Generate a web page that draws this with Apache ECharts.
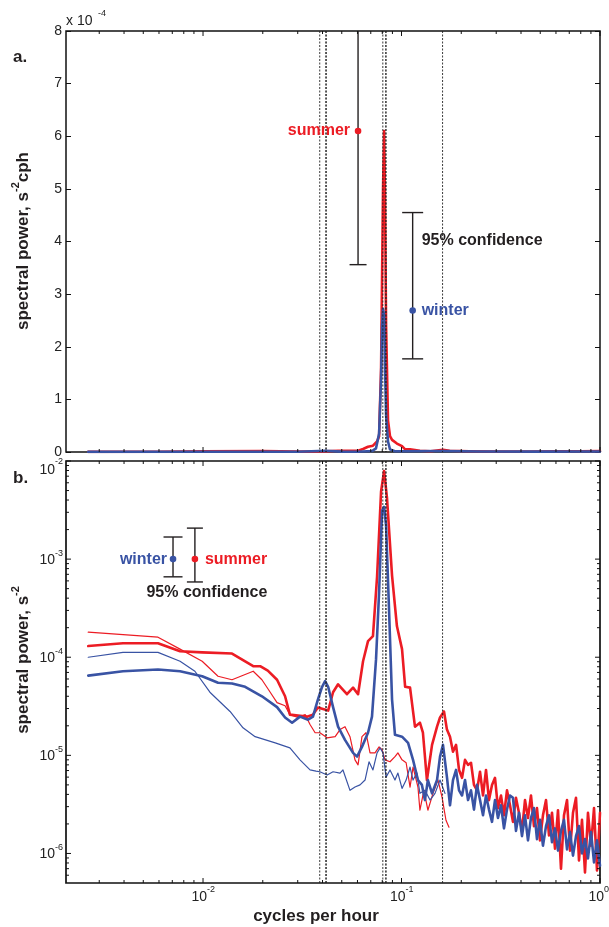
<!DOCTYPE html>
<html>
<head>
<meta charset="utf-8">
<script src="https://cdn.jsdelivr.net/npm/echarts@6/dist/echarts.min.js"></script>
<style>
  html, body { margin: 0; padding: 0; background: #fff; }
  #chart { width: 609px; height: 927px; }
</style>
</head>
<body>
<div id="chart"></div>
<script>
// ---------- panel a: variance-preserving spectra (s^-2 cph), linear power ----------
const freqLinSummer = [0.00264, 0.00593, 0.0100, 0.0200, 0.0300, 0.0420, 0.0479, 0.0604, 0.0640, 0.0678, 0.0718, 0.0753, 0.0771, 0.0789, 0.0807, 0.0817, 0.0826, 0.0836, 0.0855, 0.0875, 0.0896, 0.0948, 0.1006, 0.1043, 0.1104, 0.1238, 0.1400, 0.1618, 0.1750, 0.2200, 0.3000, 0.4500, 0.6000, 0.8000, 1.0000];
const powLinSummer  = [3e-7, 6e-7, 1.1e-6, 1.6e-6, 8e-7, 1.2e-6, 2.5e-6, 2.5e-6, 5.8e-6, 1.0e-5, 1.2e-5, 2.0e-5, 3.0e-5, 1.6e-4, 5.0e-4, 6.1e-4, 4.8e-4, 2.4e-4, 6e-5, 3.0e-5, 2.3e-5, 1.6e-5, 1.1e-5, 5e-6, 5e-6, 2.5e-6, 1.5e-6, 4e-6, 2.5e-6, 1.5e-6, 1.0e-6, 1.0e-6, 1.5e-6, 1.5e-6, 2.0e-6];
const freqLinWinter = [0.00264, 0.0100, 0.0300, 0.0412, 0.0500, 0.0600, 0.0710, 0.0744, 0.0771, 0.0789, 0.0798, 0.0807, 0.0817, 0.0826, 0.0836, 0.0855, 0.0875, 0.0927, 0.1006, 0.1618, 0.2500, 0.5000, 1.0000];
const powLinWinter  = [2e-7, 6e-7, 6e-7, 2.3e-6, 7e-7, 6e-7, 1.8e-6, 7e-6, 3.5e-5, 1.4e-4, 2.4e-4, 2.72e-4, 2.6e-4, 1.6e-4, 7e-5, 2e-5, 5e-6, 1.5e-6, 1.5e-6, 2e-6, 1e-6, 8e-7, 1e-6];

// ---------- panel b: spectra (s^-2), log power ----------
// thick = full record, thin = second estimate
const freqSummerThick = [0.00264, 0.00395, 0.00593, 0.00766, 0.0099, 0.0140, 0.0179, 0.0194, 0.0212, 0.0236, 0.0259, 0.0274, 0.0301, 0.0334, 0.0358, 0.0379, 0.0427, 0.0452, 0.0479, 0.0531, 0.0570, 0.0604, 0.0640, 0.0678, 0.0718, 0.0753, 0.0789, 0.0817, 0.0845, 0.0896, 0.0948, 0.1006, 0.1043, 0.1104, 0.1169, 0.1238, 0.1282, 0.1343, 0.1425, 0.1510, 0.1563, 0.1637, 0.1694];
const powSummerThick  = [1.30e-4, 1.39e-4, 1.39e-4, 1.15e-4, 1.12e-4, 1.09e-4, 8.1e-5, 8.1e-5, 7.3e-5, 5.9e-5, 4.0e-5, 2.6e-5, 2.54e-5, 2.48e-5, 2.6e-5, 3.07e-5, 2.86e-5, 4.4e-5, 5.3e-5, 4.2e-5, 4.9e-5, 4.2e-5, 9.1e-5, 1.46e-4, 1.64e-4, 6.6e-4, 4.9e-3, 7.9e-3, 4.2e-3, 6.8e-4, 2.08e-4, 1.21e-4, 5.0e-5, 4.9e-5, 1.96e-5, 2.15e-5, 1.7e-5, 5.6e-6, 1.28e-5, 1.96e-5, 2.43e-5, 2.8e-5, 1.83e-5];

const freqWinterThick = [0.00264, 0.00395, 0.00593, 0.00766, 0.0099, 0.0119, 0.0140, 0.0163, 0.0198, 0.0236, 0.0259, 0.0281, 0.0308, 0.0338, 0.0358, 0.0379, 0.0398, 0.0412, 0.0427, 0.0452, 0.0479, 0.0519, 0.0570, 0.0597, 0.0632, 0.0678, 0.0710, 0.0744, 0.0771, 0.0798, 0.0817, 0.0836, 0.0865, 0.0896, 0.0927, 0.1006, 0.1079, 0.1143, 0.1210, 0.1267, 0.1312, 0.1358, 0.1425, 0.1510, 0.1563, 0.1618, 0.1694];
const powWinterThick  = [6.5e-5, 7.2e-5, 7.5e-5, 7.2e-5, 6.4e-5, 5.5e-5, 5.4e-5, 5.0e-5, 4.0e-5, 3.1e-5, 2.43e-5, 2.15e-5, 2.48e-5, 2.31e-5, 2.48e-5, 3.7e-5, 5.0e-5, 5.7e-5, 5.0e-5, 3.1e-5, 1.96e-5, 1.44e-5, 1.06e-5, 9.7e-6, 1.22e-5, 1.7e-5, 2.48e-5, 9.5e-5, 4.6e-4, 3.1e-3, 3.4e-3, 2.2e-3, 3.1e-4, 3.7e-5, 1.62e-5, 1.55e-5, 1.34e-5, 9.0e-6, 5.6e-6, 5.0e-6, 3.5e-6, 5.6e-6, 4.1e-6, 5.6e-6, 9.7e-6, 1.28e-5, 6.0e-6];

// shared high-frequency band for the thick spectra
const freqHigh = [0.1755, 0.1817, 0.1883, 0.1949, 0.2018, 0.2089, 0.2163, 0.2239, 0.2318, 0.2401, 0.2486, 0.2574, 0.2665, 0.2759, 0.2857, 0.2958, 0.3062, 0.3171, 0.3283, 0.3399, 0.3520, 0.3644, 0.3773, 0.3906, 0.4046, 0.4189, 0.4337, 0.4490, 0.4649, 0.4814, 0.4984, 0.5160, 0.5346, 0.5535, 0.5731, 0.5933, 0.6143, 0.6360, 0.6585, 0.6822, 0.7063, 0.7311, 0.7570, 0.7837, 0.8114, 0.8402, 0.8699, 0.9010, 0.9329, 0.9658, 1.0];
const powSummerHigh = [1.55e-5, 1.09e-5, 1.28e-5, 7.1e-6, 5.9e-6, 9.0e-6, 8.0e-6, 8.4e-6, 5.0e-6, 4.4e-6, 6.8e-6, 3.9e-6, 7.1e-6, 3.5e-6, 5.0e-6, 5.9e-6, 2.9e-6, 3.9e-6, 2.45e-6, 4.4e-6, 3.1e-6, 2.1e-6, 3.7e-6, 2.6e-6, 1.7e-6, 3.5e-6, 2.3e-6, 3.9e-6, 1.9e-6, 2.9e-6, 1.36e-6, 2.45e-6, 3.5e-6, 1.53e-6, 2.6e-6, 1.12e-6, 2.76e-6, 7.0e-7, 2.45e-6, 3.5e-6, 1.07e-6, 2.6e-6, 3.7e-6, 8.5e-7, 2.2e-6, 6.4e-7, 2.6e-6, 1.2e-6, 2.9e-6, 6.7e-7, 2.6e-6];
const powWinterHigh = [3.1e-6, 5.6e-6, 7.1e-6, 4.4e-6, 3.9e-6, 5.6e-6, 3.5e-6, 4.4e-6, 2.8e-6, 5.0e-6, 3.5e-6, 2.45e-6, 3.9e-6, 2.8e-6, 2.1e-6, 3.5e-6, 2.3e-6, 3.1e-6, 1.8e-6, 2.8e-6, 3.9e-6, 3.7e-6, 1.7e-6, 2.6e-6, 1.5e-6, 2.45e-6, 1.36e-6, 2.3e-6, 2.9e-6, 1.4e-6, 2.2e-6, 1.2e-6, 1.9e-6, 2.45e-6, 1.3e-6, 1.8e-6, 1.07e-6, 1.7e-6, 2.2e-6, 1.1e-6, 1.65e-6, 9.5e-7, 1.5e-6, 1.9e-6, 1.0e-6, 1.4e-6, 8.9e-7, 1.65e-6, 8.1e-7, 1.36e-6, 7.5e-7];

const freqSummerThin = [0.00264, 0.00593, 0.00766, 0.0099, 0.0119, 0.0140, 0.0179, 0.0198, 0.0218, 0.0236, 0.0259, 0.0274, 0.0301, 0.0327, 0.0346, 0.0367, 0.0388, 0.0422, 0.0463, 0.0490, 0.0519, 0.0550, 0.0583, 0.0604, 0.0632, 0.0662, 0.0694, 0.0735, 0.0771, 0.0798, 0.0826, 0.0875, 0.0927, 0.0959, 0.1006, 0.1055, 0.1104, 0.1143, 0.1210, 0.1238, 0.1297, 0.1358, 0.1441, 0.1527, 0.1600, 0.1675, 0.1734];
const powSummerThin  = [1.8e-4, 1.6e-4, 1.21e-4, 9.1e-5, 6.4e-5, 5.9e-5, 7.2e-5, 5.9e-5, 4.4e-5, 3.45e-5, 3.2e-5, 2.6e-5, 2.43e-5, 2.6e-5, 2.06e-5, 1.7e-5, 1.7e-5, 1.51e-5, 1.55e-5, 1.83e-5, 1.96e-5, 1.55e-5, 9.0e-6, 8.0e-6, 1.55e-5, 1.7e-5, 1.06e-5, 1.06e-5, 1.22e-5, 1.14e-5, 9.0e-6, 8.6e-6, 9.7e-6, 1.06e-5, 9.0e-6, 8.4e-6, 4.75e-6, 7.6e-6, 4.75e-6, 2.76e-6, 4.4e-6, 2.76e-6, 4.1e-6, 5.6e-6, 3.75e-6, 2.18e-6, 1.85e-6];

const freqWinterThin = [0.00264, 0.00395, 0.00593, 0.00766, 0.0091, 0.01083, 0.01368, 0.0159, 0.0183, 0.0231, 0.0274, 0.0308, 0.0346, 0.0371, 0.0388, 0.0422, 0.0452, 0.0490, 0.0507, 0.0550, 0.0583, 0.0618, 0.0655, 0.0686, 0.0718, 0.0753, 0.0780, 0.0807, 0.0836, 0.0875, 0.0927, 0.0959, 0.1006, 0.1055, 0.1104, 0.1143, 0.1196, 0.1238, 0.1312, 0.1392, 0.1475, 0.1563, 0.1656];
const powWinterThin  = [1.0e-4, 1.12e-4, 1.12e-4, 9.1e-5, 7.2e-5, 4.4e-5, 2.8e-5, 1.91e-5, 1.55e-5, 1.34e-5, 1.19e-5, 9.0e-6, 7.1e-6, 6.9e-6, 6.8e-6, 6.3e-6, 6.8e-6, 6.6e-6, 7.1e-6, 4.4e-6, 4.75e-6, 5.0e-6, 5.6e-6, 8.6e-6, 7.1e-6, 1.06e-5, 1.19e-5, 1.06e-5, 6.0e-6, 7.1e-6, 5.6e-6, 6.6e-6, 4.6e-6, 5.6e-6, 7.6e-6, 5.6e-6, 6.6e-6, 4.1e-6, 4.4e-6, 3.5e-6, 4.1e-6, 5.6e-6, 4.1e-6];

// tidal constituents (cph): O1, P1, K1, M2, S2, K2, M4
const tidalFreqs = [0.03873, 0.04155, 0.04178, 0.08051, 0.08333, 0.08356, 0.16102];

// 95% confidence bars: frequency where drawn, centre, lower, upper
const confA = {
  summer: { f: 0.0604, c: 6.1e-4, lo: 3.56e-4, hi: 1.05e-3 },
  winter: { f: 0.1138, c: 2.69e-4, lo: 1.77e-4, hi: 4.55e-4 }
};
const confB = {
  winter: { f: 0.00706, c: 1.0e-3, lo: 6.6e-4, hi: 1.68e-3 },
  summer: { f: 0.0091, c: 1.0e-3, lo: 5.85e-4, hi: 2.07e-3 }
};

// axis ranges and ticks
const X_MIN = 2.04e-3, X_MAX = 1;
const Y_MIN_B = 5e-7, Y_MAX_B = 1e-2;
const xMajorTicks = [0.01, 0.1, 1];
const xMinorTicks = [0.003, 0.004, 0.005, 0.006, 0.007, 0.008, 0.009, 0.02, 0.03, 0.04, 0.05, 0.06, 0.07, 0.08, 0.09, 0.2, 0.3, 0.4, 0.5, 0.6, 0.7, 0.8, 0.9];
const yMajorTicksB = [1e-6, 1e-5, 1e-4, 1e-3, 1e-2];
const yMinorTicksB = [6e-7, 7e-7, 8e-7, 9e-7, 2e-6, 3e-6, 4e-6, 5e-6, 6e-6, 7e-6, 8e-6, 9e-6, 2e-5, 3e-5, 4e-5, 5e-5, 6e-5, 7e-5, 8e-5, 9e-5, 2e-4, 3e-4, 4e-4, 5e-4, 6e-4, 7e-4, 8e-4, 9e-4, 2e-3, 3e-3, 4e-3, 5e-3, 6e-3, 7e-3, 8e-3, 9e-3];

const FONT = '"Liberation Sans", Arial, Helvetica, sans-serif';
const RED = '#ec1c24', BLUE = '#3953a4', INK = '#231f20';

const pairs = (xs, ys) => xs.map((x, i) => [x, ys[i]]);

function line(name, xi, yi, data, color, width, z) {
  return {
    name, type: 'line', xAxisIndex: xi, yAxisIndex: yi, data,
    showSymbol: false, symbol: 'none', silent: true, animation: false, z,
    lineStyle: { color, width, join: 'round', cap: 'round' }
  };
}

// dotted verticals at the tidal frequencies, full panel height
function tidalSeries(xi, yi, yAny) {
  return {
    type: 'custom', xAxisIndex: xi, yAxisIndex: yi, silent: true, animation: false, z: 8,
    clip: false, data: tidalFreqs.map(f => [f, yAny]),
    renderItem(params, api) {
      const cs = params.coordSys;
      const x = api.coord([api.value(0), api.value(1)])[0];
      return {
        type: 'line', shape: { x1: x, y1: cs.y, x2: x, y2: cs.y + cs.height },
        style: { stroke: '#222', lineWidth: 0.9, lineDash: [2, 1.5] }
      };
    }
  };
}

// tick marks drawn on all four sides; labels on log panel
function tickSeries(xi, yi, items, withLabels) {
  return {
    type: 'custom', xAxisIndex: xi, yAxisIndex: yi, silent: true, animation: false, z: 20,
    clip: false, data: items,
    renderItem(params, api) {
      const cs = params.coordSys;
      const v0 = api.value(0), v1 = api.value(1);
      const axis = api.value(2), major = api.value(3) === 1;
      const p = api.coord([v0, v1]);
      const len = major ? 5 : 3;
      const st = { stroke: '#111', lineWidth: 1 };
      const kids = [];
      if (axis === 0) {
        const x = p[0], b = cs.y + cs.height;
        kids.push({ type: 'line', shape: { x1: x, y1: b, x2: x, y2: b - len }, style: st });
        kids.push({ type: 'line', shape: { x1: x, y1: cs.y, x2: x, y2: cs.y + len }, style: st });
        if (withLabels && major) {
          const e = String(Math.round(Math.log10(v0)));
          kids.push({ type: 'text', x: x + 4, y: b + 14, style: { text: '10', fill: '#222', font: '14px ' + FONT, align: 'right', verticalAlign: 'middle' } });
          kids.push({ type: 'text', x: x + 4, y: b + 7, style: { text: e, fill: '#222', font: '9px ' + FONT, align: 'left', verticalAlign: 'middle' } });
        }
      } else {
        const y = p[1], r = cs.x + cs.width;
        kids.push({ type: 'line', shape: { x1: cs.x, y1: y, x2: cs.x + len, y2: y }, style: st });
        kids.push({ type: 'line', shape: { x1: r, y1: y, x2: r - len, y2: y }, style: st });
        if (withLabels && major) {
          const e = String(Math.round(Math.log10(v1)));
          const top = Math.abs(y - cs.y) < 2;
          kids.push({ type: 'text', x: cs.x - 11, y: y + (top ? 9 : 1), style: { text: '10', fill: '#222', font: '14px ' + FONT, align: 'right', verticalAlign: 'middle' } });
          kids.push({ type: 'text', x: cs.x - 11, y: y + (top ? 1 : -6), style: { text: e, fill: '#222', font: '9px ' + FONT, align: 'left', verticalAlign: 'middle' } });
        }
      }
      return { type: 'group', children: kids };
    }
  };
}

// error bar with coloured centre dot and text labels
function confSeries(xi, yi, bar, color, cap, labels) {
  return {
    type: 'custom', xAxisIndex: xi, yAxisIndex: yi, silent: true, animation: false, z: 15,
    clip: false, data: [[bar.f, bar.c, bar.lo, bar.hi]],
    renderItem(params, api) {
      const cs = params.coordSys;
      const f = api.value(0);
      const pc = api.coord([f, api.value(1)]);
      const pl = api.coord([f, api.value(2)]);
      const ph = api.coord([f, api.value(3)]);
      const x = pc[0];
      const clipped = ph[1] < cs.y;
      const yt = clipped ? cs.y : ph[1];
      const st = { stroke: INK, lineWidth: 1.4 };
      const kids = [
        { type: 'line', shape: { x1: x, y1: yt, x2: x, y2: pl[1] }, style: st },
        { type: 'line', shape: { x1: x - cap, y1: pl[1], x2: x + cap, y2: pl[1] }, style: st }
      ];
      if (!clipped) kids.push({ type: 'line', shape: { x1: x - cap, y1: ph[1], x2: x + cap, y2: ph[1] }, style: st });
      kids.push({ type: 'circle', shape: { cx: x, cy: pc[1], r: 3.3 }, style: { fill: color } });
      labels.forEach(l => {
        const ref = l.anchor === 'hi' ? ph : l.anchor === 'lo' ? pl : pc;
        kids.push({
          type: 'text', x: x + l.dx, y: ref[1] + l.dy,
          style: { text: l.text, fill: l.color, font: 'bold 16px ' + FONT, align: l.align, verticalAlign: 'middle' }
        });
      });
      return { type: 'group', children: kids };
    }
  };
}

const ticksA = []
  .concat(xMajorTicks.map(v => [v, 4e-4, 0, 1]))
  .concat(xMinorTicks.map(v => [v, 4e-4, 0, 0]));
const ticksB = []
  .concat(xMajorTicks.map(v => [v, 1e-4, 0, 1]))
  .concat(xMinorTicks.map(v => [v, 1e-4, 0, 0]))
  .concat(yMajorTicksB.map(v => [0.01, v, 1, 1]))
  .concat(yMinorTicksB.map(v => [0.01, v, 1, 0]));

const hiddenLog = (gi, min, max) => ({
  type: 'log', logBase: 10, gridIndex: gi, min, max,
  axisLine: { show: false }, axisTick: { show: false }, axisLabel: { show: false },
  splitLine: { show: false }, minorTick: { show: false }
});

const linAxis = (pos, labels) => ({
  type: 'value', gridIndex: 0, position: pos, min: 0, max: 8e-4, interval: 1e-4,
  axisLine: { show: false }, splitLine: { show: false },
  axisTick: { show: true, inside: true, length: 5, lineStyle: { color: '#111', width: 1 } },
  axisLabel: {
    show: labels, margin: 4, color: '#222', fontSize: 14, fontFamily: FONT,
    formatter: v => String(Math.round(v * 1e4))
  }
});

const richTitle = {
  n: { fontSize: 17, fontWeight: 'bold', fontFamily: FONT, fill: INK, color: INK, lineHeight: 22, verticalAlign: 'bottom' },
  s: { fontSize: 11, fontWeight: 'bold', fontFamily: FONT, fill: INK, color: INK, lineHeight: 22, verticalAlign: 'top' }
};

const option = {
  backgroundColor: '#fff',
  animation: false,
  grid: [
    { left: 66, top: 31, width: 534, height: 421, show: true, borderColor: '#111', borderWidth: 1.5, backgroundColor: 'transparent' },
    { left: 66, top: 461, width: 534, height: 422, show: true, borderColor: '#111', borderWidth: 1.7, backgroundColor: 'transparent' }
  ],
  xAxis: [hiddenLog(0, X_MIN, X_MAX), hiddenLog(1, X_MIN, X_MAX)],
  yAxis: [linAxis('left', true), linAxis('right', false), hiddenLog(1, Y_MIN_B, Y_MAX_B)],
  series: [
    line('summer (a)', 0, 0, pairs(freqLinSummer, powLinSummer), RED, 2.6, 3),
    line('winter (a)', 0, 0, pairs(freqLinWinter, powLinWinter), BLUE, 2.6, 4),
    tidalSeries(0, 0, 4e-4),
    tickSeries(0, 0, ticksA, false),
    confSeries(0, 0, confA.summer, RED, 8.5, [
      { text: 'summer', color: RED, align: 'right', dx: -8, dy: 0 }
    ]),
    confSeries(0, 0, confA.winter, BLUE, 10.5, [
      { text: 'winter', color: BLUE, align: 'left', dx: 9, dy: 0 },
      { text: '95% confidence', color: INK, align: 'left', dx: 9, dy: 28, anchor: 'hi' }
    ]),

    line('summer thin (b)', 1, 2, pairs(freqSummerThin, powSummerThin), RED, 1.2, 3),
    line('winter thin (b)', 1, 2, pairs(freqWinterThin, powWinterThin), BLUE, 1.2, 4),
    line('summer (b)', 1, 2, pairs(freqSummerThick.concat(freqHigh), powSummerThick.concat(powSummerHigh)), RED, 2.6, 5),
    line('winter (b)', 1, 2, pairs(freqWinterThick.concat(freqHigh), powWinterThick.concat(powWinterHigh)), BLUE, 2.6, 6),
    tidalSeries(1, 2, 1e-4),
    tickSeries(1, 2, ticksB, true),
    confSeries(1, 2, confB.winter, BLUE, 9.5, [
      { text: 'winter', color: BLUE, align: 'right', dx: -6, dy: 0 }
    ]),
    confSeries(1, 2, confB.summer, RED, 8, [
      { text: 'summer', color: RED, align: 'left', dx: 10, dy: 0 },
      { text: '95% confidence', color: INK, align: 'center', dx: 12, dy: 11, anchor: 'lo' }
    ])
  ],
  graphic: [
    { type: 'text', x: 13, y: 57, style: { text: 'a.', font: 'bold 17px ' + FONT, fill: INK, verticalAlign: 'middle' } },
    { type: 'text', x: 13, y: 478, style: { text: 'b.', font: 'bold 17px ' + FONT, fill: INK, verticalAlign: 'middle' } },
    { type: 'text', x: 66, y: 21, style: { text: 'x 10', font: '14px ' + FONT, fill: '#222', verticalAlign: 'middle' } },
    { type: 'text', x: 98, y: 14, style: { text: '-4', font: '9px ' + FONT, fill: '#222', verticalAlign: 'middle' } },
    { type: 'text', x: 21, y: 241, rotation: Math.PI / 2,
      style: { text: '{n|spectral power, s}{s|-2}{n|cph}', rich: richTitle, align: 'center', verticalAlign: 'middle' } },
    { type: 'text', x: 21, y: 660, rotation: Math.PI / 2,
      style: { text: '{n|spectral power, s}{s|-2}', rich: richTitle, align: 'center', verticalAlign: 'middle' } },
    { type: 'text', x: 316, y: 916, style: { text: 'cycles per hour', font: 'bold 17px ' + FONT, fill: INK, align: 'center', verticalAlign: 'middle' } }
  ]
};

const chart = echarts.init(document.getElementById('chart'), null, { renderer: 'canvas' });
chart.setOption(option);
</script>
</body>
</html>
